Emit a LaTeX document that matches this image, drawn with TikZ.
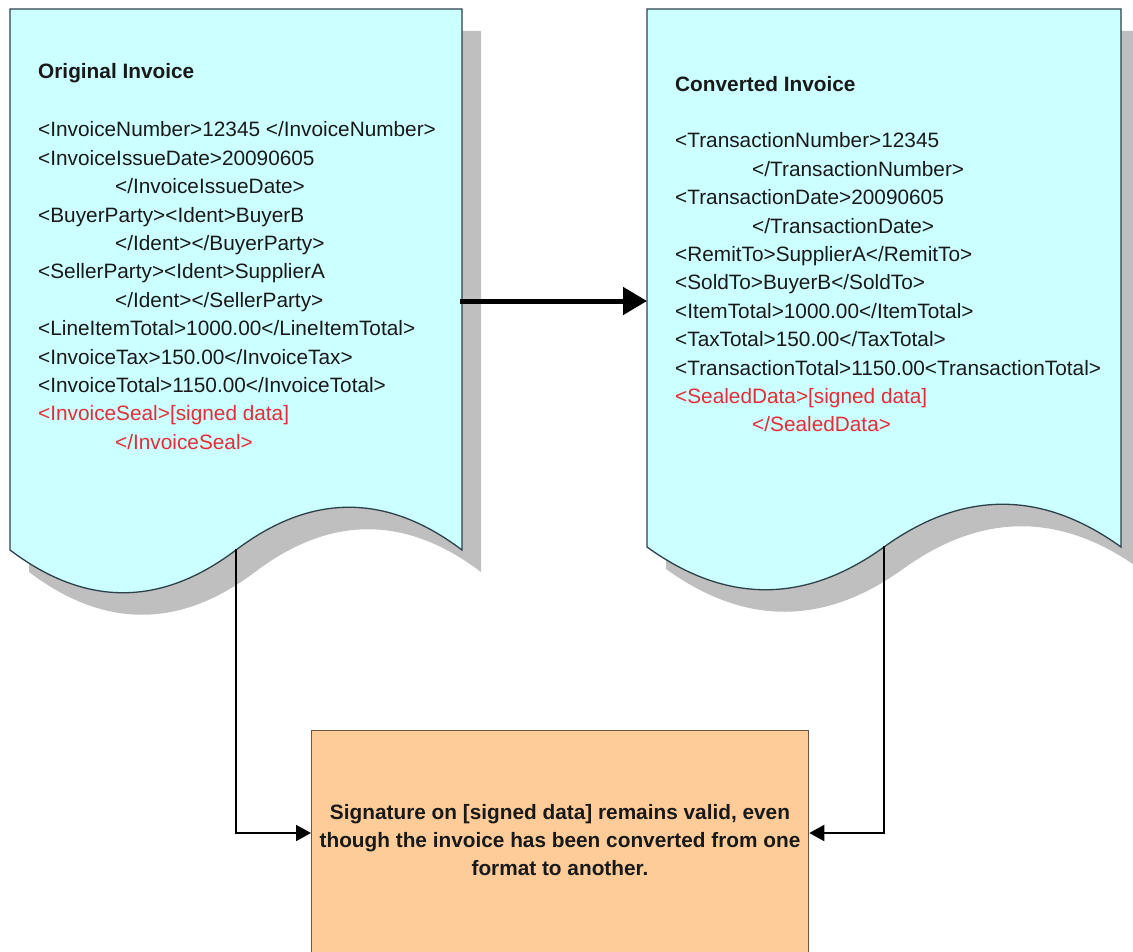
\documentclass[tikz,border=0pt]{standalone}
\usepackage{fontspec}
\setmainfont{Liberation Sans}
\usetikzlibrary{arrows.meta}

\definecolor{docfill}{RGB}{204,255,255}
\definecolor{docline}{RGB}{45,65,75}
\definecolor{shade}{RGB}{191,191,191}
\definecolor{boxfill}{RGB}{254,204,153}
\definecolor{boxline}{RGB}{110,85,60}
\definecolor{ink}{RGB}{25,25,25}
\definecolor{seal}{RGB}{228,45,55}

\begin{document}
\begin{tikzpicture}[x=1pt,y=-1pt,
  docshape/.style={fill=docfill,draw=docline,line width=1.3pt,line join=miter},
  docshadow/.style={fill=shade},
  doctitle/.style={anchor=base west,inner sep=0pt,text=ink,
    font=\fontsize{20.8}{28.4}\selectfont\bfseries},
  docbody/.style={anchor=base west,inner sep=0pt,text=ink,
    font=\fontsize{20.8}{28.4}\selectfont},
  notebox/.style={draw=boxline,fill=boxfill,line width=1.3pt,inner sep=0pt},
  notetext/.style={align=center,inner sep=0pt,text=ink,
    font=\fontsize{20.8}{28.2}\selectfont\bfseries},
  flow/.style={line width=5pt,-{Triangle[length=24pt,width=27pt]}},
  link/.style={line width=2pt,-{Triangle[length=15pt,width=16pt]}}
]
\useasboundingbox (0,0) rectangle (1133,952);

% drop shadows of the two documents
\begin{scope}[shift={(19,22)}]
  \fill[docshadow] (10,9) -- (462,9) -- (462,550)
    .. controls (386.7,493) and (311.3,493) .. (236,550)
    .. controls (160.7,607) and (85.3,607) .. (10,550) -- cycle;
  \fill[docshadow] (647,9) -- (1121,9) -- (1121,547)
    .. controls (1042,490) and (963,490) .. (884,547)
    .. controls (805,604) and (726,604) .. (647,547) -- cycle;
\end{scope}

% document outlines
\draw[docshape] (10,9) -- (462,9) -- (462,550)
  .. controls (386.7,493) and (311.3,493) .. (236,550)
  .. controls (160.7,607) and (85.3,607) .. (10,550) -- cycle;
\draw[docshape] (647,9) -- (1121,9) -- (1121,547)
  .. controls (1042,490) and (963,490) .. (884,547)
  .. controls (805,604) and (726,604) .. (647,547) -- cycle;

% connection points on the documents
\coordinate (origEast) at (460,301);
\coordinate (convWest) at (647,301);
\coordinate (origFoot) at (236,549);
\coordinate (convFoot) at (884,546);
\coordinate (joinLevel) at (0,833);

% document contents
\node[doctitle] (origTitle) at (38,79) {Original Invoice};
\node[docbody] (origBody) at (38,137) {\begin{tabular}[t]{@{}l@{}}
<InvoiceNumber>12345 </InvoiceNumber>\\
<InvoiceIssueDate>20090605\\
\hspace*{77pt}</InvoiceIssueDate>\\
<BuyerParty><Ident>BuyerB\\
\hspace*{77pt}</Ident></BuyerParty>\\
<SellerParty><Ident>SupplierA\\
\hspace*{77pt}</Ident></SellerParty>\\
<LineItemTotal>1000.00</LineItemTotal>\\
<InvoiceTax>150.00</InvoiceTax>\\
<InvoiceTotal>1150.00</InvoiceTotal>\\
\textcolor{seal}{<InvoiceSeal>[signed data]}\\
\hspace*{77pt}\textcolor{seal}{</InvoiceSeal>}
\end{tabular}};

\node[doctitle] (convTitle) at (675,92) {Converted Invoice};
\node[docbody] (convBody) at (675,148) {\begin{tabular}[t]{@{}l@{}}
<TransactionNumber>12345\\
\hspace*{77pt}</TransactionNumber>\\
<TransactionDate>20090605\\
\hspace*{77pt}</TransactionDate>\\
<RemitTo>SupplierA</RemitTo>\\
<SoldTo>BuyerB</SoldTo>\\
<ItemTotal>1000.00</ItemTotal>\\
<TaxTotal>150.00</TaxTotal>\\
<TransactionTotal>1150.00<TransactionTotal>\\
\textcolor{seal}{<SealedData>[signed data]}\\
\hspace*{77pt}\textcolor{seal}{</SealedData>}
\end{tabular}};

% result box
\node[notebox,minimum width=497pt,minimum height=232pt,anchor=north west]
  (box) at (311,730) {};
\node[notetext] (note) at (560,840)
  {Signature on [signed data] remains valid, even\\
   though the invoice has been converted from one\\
   format to another.};

% connectors
\draw[flow] (origEast) -- (convWest);
\draw[link] (origFoot) |- (box.west |- joinLevel);
\draw[link] (convFoot) |- (box.east |- joinLevel);
\end{tikzpicture}
\end{document}
